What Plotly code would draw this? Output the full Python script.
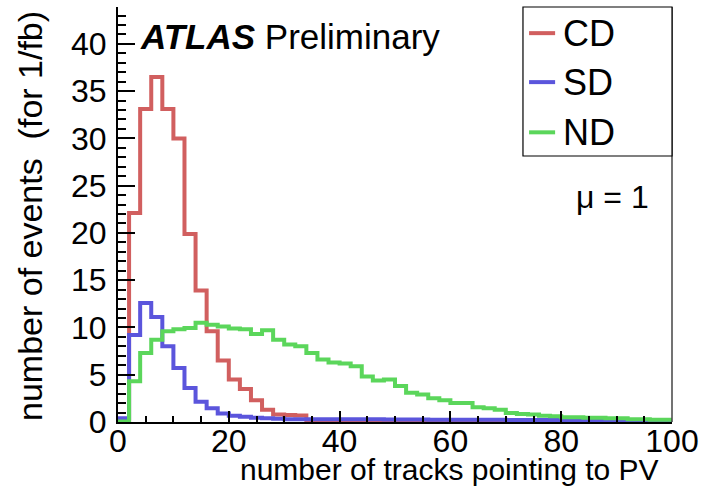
import plotly.graph_objects as go

# ---------------- data ----------------
bin_edges = list(range(0, 102, 2))  # 50 bins of width 2 in number of tracks

cd_events = [0.0, 22.1, 33.1, 36.5, 33.1, 30.0, 19.9, 13.9, 9.6, 6.5,
             4.5, 3.5, 2.3, 1.3, 0.8, 0.75, 0.7, 0.2, 0.15, 0.15,
             0.1, 0.1, 0.1, 0.08, 0.06, 0.05, 0.04, 0.04, 0.03, 0.03,
             0.02, 0.02, 0.02, 0.01, 0.01, 0.01, 0.01, 0.01, 0.01, 0.0,
             0.0, 0.0, 0.0, 0.0, 0.0, 0.0, 0.0, 0.0, 0.0, 0.0]

sd_events = [0.4, 9.2, 12.6, 11.1, 8.0, 5.7, 3.6, 2.15, 1.45, 0.9,
             0.65, 0.55, 0.45, 0.4, 0.35, 0.3, 0.3, 0.3, 0.3, 0.3,
             0.28, 0.28, 0.28, 0.28, 0.27, 0.27, 0.26, 0.26, 0.25, 0.25,
             0.25, 0.24, 0.24, 0.23, 0.23, 0.22, 0.22, 0.21, 0.2, 0.2,
             0.19, 0.18, 0.18, 0.17, 0.16, 0.15, 0.14, 0.13, 0.12, 0.1]

nd_events = [0.05, 4.3, 7.3, 8.7, 9.6, 9.8, 9.95, 10.5, 10.3, 10.1,
             9.9, 9.8, 9.3, 9.7, 8.7, 8.2, 8.0, 7.3, 6.6, 6.3,
             6.2, 5.9, 4.8, 4.4, 4.5, 3.8, 3.1, 2.9, 2.5, 2.3,
             2.0, 2.0, 1.55, 1.45, 1.3, 0.95, 0.85, 0.8, 0.65, 0.6,
             0.5, 0.5, 0.45, 0.45, 0.4, 0.4, 0.3, 0.3, 0.25, 0.25]

series_names = ["CD", "SD", "ND"]
series_colors = ["#d15f5f", "#5b55dc", "#5bd65b"]
series_values = [cd_events, sd_events, nd_events]

x_tick_vals = [0, 20, 40, 60, 80, 100]
y_tick_vals = [0, 5, 10, 15, 20, 25, 30, 35, 40]

FONT = "Liberation Sans, Arial, Helvetica, sans-serif"

fig = go.Figure()
for name, color, vals in zip(series_names, series_colors, series_values):
    fig.add_trace(go.Scatter(
        x=bin_edges, y=list(vals) + [vals[-1]],
        mode="lines", line=dict(shape="hv", color=color, width=4),
        name=name, showlegend=False, hoverinfo="skip"))

fig.update_layout(
    width=703, height=501,
    margin=dict(l=118, r=31, t=7, b=79, autoexpand=False),
    paper_bgcolor="white", plot_bgcolor="white",
    font=dict(family=FONT, color="black"),
    showlegend=False,
)
fig.update_xaxes(
    range=[0, 100], tickvals=x_tick_vals, ticks="inside", ticklen=11, tickwidth=2,
    tickcolor="black", showline=True, linecolor="black", linewidth=2,
    showgrid=False, zeroline=False, tickfont=dict(size=32), automargin=False,
    ticklabelstandoff=-10,
    minor=dict(dtick=5, ticks="inside", ticklen=6, tickwidth=1.5, tickcolor="black", showgrid=False),
)
fig.update_yaxes(
    range=[0, 43.9], tickvals=y_tick_vals, ticks="inside", ticklen=17, tickwidth=2,
    tickcolor="black", showline=True, linecolor="black", linewidth=2,
    showgrid=False, zeroline=False, tickfont=dict(size=32), ticklabelstandoff=3,
    automargin=False,
    minor=dict(dtick=1, ticks="inside", ticklen=8, tickwidth=1.5, tickcolor="black", showgrid=False),
)

# right frame line
fig.add_shape(type="line", xref="paper", yref="paper", x0=1, x1=1, y0=0, y1=1,
              line=dict(color="#444444", width=1.5))

# legend box
fig.add_shape(type="rect", xref="paper", yref="paper", x0=0.731, x1=1.0, y0=0.641, y1=1.0,
              line=dict(color="black", width=1.2), fillcolor="white", layer="above")
leg_y = [0.937, 0.819, 0.698]
for name, color, ly in zip(series_names, series_colors, leg_y):
    fig.add_shape(type="line", xref="paper", yref="paper", x0=0.742, x1=0.789, y0=ly, y1=ly,
                  line=dict(color=color, width=4), layer="above")
    fig.add_annotation(xref="paper", yref="paper", x=0.800, y=ly, text=name, showarrow=False,
                       xanchor="left", yanchor="middle", font=dict(size=36))

fig.add_annotation(xref="paper", yref="paper", x=0.0365, y=0.930,
                   text="<b><i>ATLAS</i></b> Preliminary", showarrow=False,
                   xanchor="left", yanchor="middle", font=dict(size=35))
fig.add_annotation(xref="paper", yref="paper", x=0.962, y=0.542,
                   text="μ = 1", showarrow=False,
                   xanchor="right", yanchor="middle", font=dict(size=32))
fig.add_annotation(xref="paper", yref="paper", x=0.980, y=-0.115,
                   text="number of tracks pointing to PV", showarrow=False,
                   xanchor="right", yanchor="middle", font=dict(size=30))
fig.add_annotation(xref="paper", yref="paper", x=-0.159, y=0.995,
                   text="number of events  (for 1/fb)", showarrow=False, textangle=-90,
                   xanchor="center", yanchor="top", font=dict(size=34))

fig.write_html("out.html", config={"displayModeBar": False},
               post_script="document.body.style.margin='0px';")
